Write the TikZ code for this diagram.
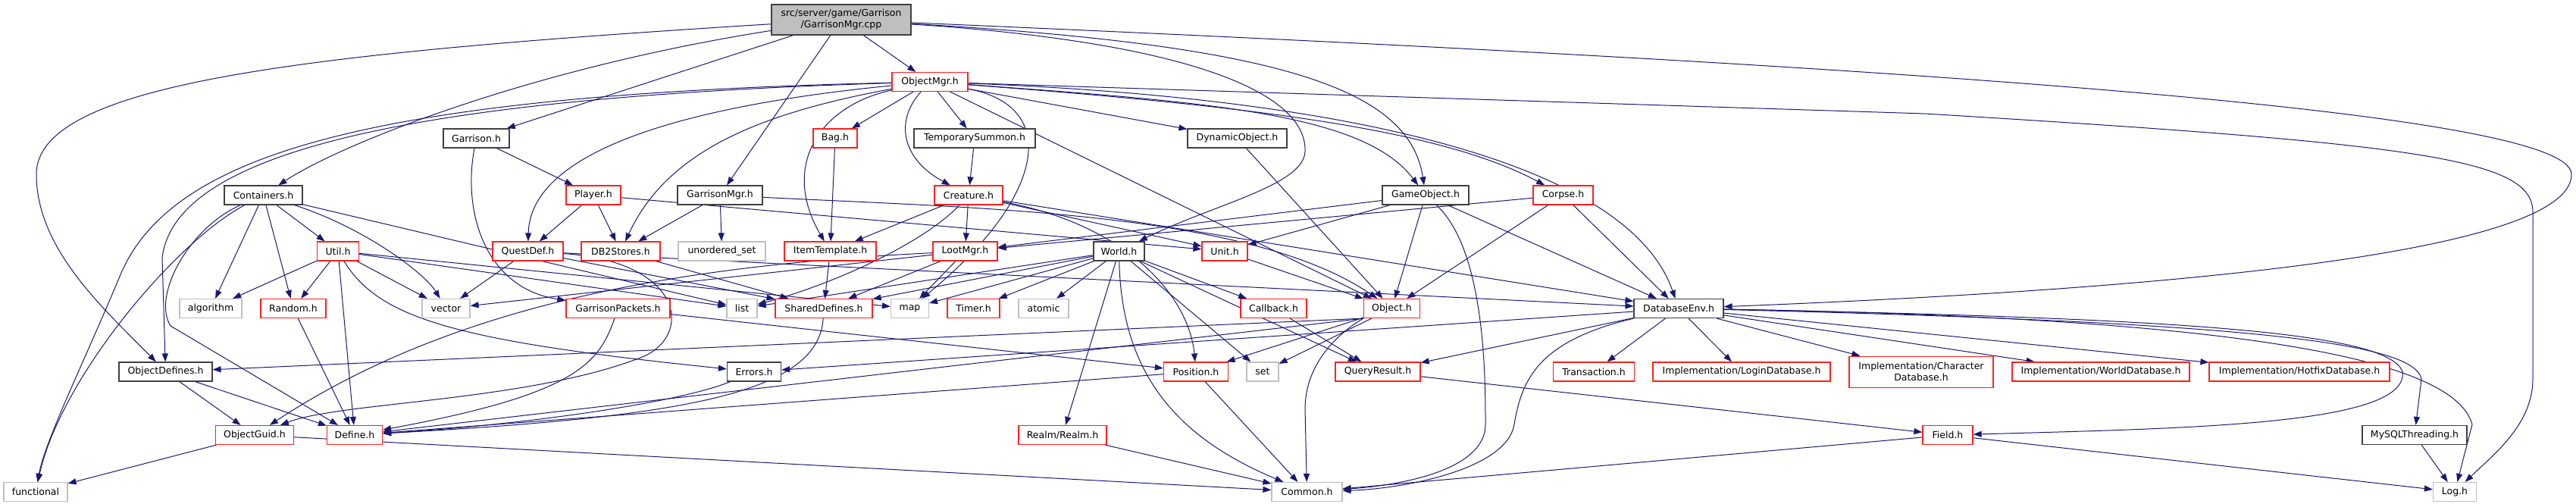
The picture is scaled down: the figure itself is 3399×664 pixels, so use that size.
\documentclass[tikz,border=0pt]{standalone}
\usepackage{fontspec}
\setmainfont{DejaVu Sans}
\usetikzlibrary{arrows.meta}
\definecolor{edgec}{HTML}{191970}
\definecolor{rbd}{HTML}{FF2020}
\definecolor{bbd}{HTML}{404040}
\definecolor{gbd}{HTML}{BFBFBF}
\pgfdeclarelayer{edges}
\pgfsetlayers{edges,main}
\tikzset{
  nd/.style={draw, fill=white, inner sep=0pt, minimum height=25pt, line width=1.2pt,
    font=\fontsize{12.5}{15}\selectfont, text=black, align=center},
  rb/.style={nd, draw=rbd},
  bb/.style={nd, draw=bbd},
  gb/.style={nd, draw=gbd},
  e/.style={draw=edgec, line width=1pt, -{Triangle[length=11pt,width=8pt]}}
}
\newcommand\N[6]{\node[#5, minimum width=#4pt] (#1) at (#2,#3) {#6};}
\begin{document}
\begin{tikzpicture}[x=1pt,y=-1pt]
\useasboundingbox (0,0) rectangle (3399,664);
% nodes
\node[nd, draw=bbd, fill=gbd, minimum width=184pt, minimum height=40pt] (root) at (1110,26) {src/server/game/Garrison\\/GarrisonMgr.cpp};
\N{ObjectMgr}{1227}{108}{100}{rb}{ObjectMgr.h}
\N{Garrison}{628.5}{182.5}{87}{bb}{Garrison.h}
\N{Bag}{1102}{182.5}{58}{rb}{Bag.h}
\N{TemporarySummon}{1286}{182.5}{160}{bb}{TemporarySummon.h}
\N{DynamicObject}{1632.5}{182.5}{131}{bb}{DynamicObject.h}
\N{Containers}{347.5}{257.5}{103}{bb}{Containers.h}
\N{Player}{783}{257.5}{72}{rb}{Player.h}
\N{GarrisonMgr}{950}{257.5}{112}{bb}{GarrisonMgr.h}
\N{Creature}{1278}{257.5}{90}{rb}{Creature.h}
\N{GameObject}{1881}{257.5}{114}{bb}{GameObject.h}
\N{Corpse}{2062.5}{257.5}{79}{rb}{Corpse.h}
\N{Util}{446}{331.5}{55}{rb}{Util.h}
\N{QuestDef}{696.5}{331.5}{93}{rb}{QuestDef.h}
\N{DBStores}{819}{331.5}{104}{rb}{DB2Stores.h}
\N{unorderedset}{952.5}{331.5}{115}{gb}{unordered\_set}
\N{ItemTemplate}{1095.5}{331.5}{121}{rb}{ItemTemplate.h}
\N{LootMgr}{1273.5}{331.5}{85}{rb}{LootMgr.h}
\N{World}{1476.5}{331.5}{67}{bb}{World.h}
\N{Unit}{1616}{331.5}{60}{rb}{Unit.h}
\N{algorithm}{278}{407}{82}{gb}{algorithm}
\N{Random}{387}{407}{86}{rb}{Random.h}
\N{vector}{588.5}{407}{63}{gb}{vector}
\N{GarrisonPackets}{815.5}{407}{137}{rb}{GarrisonPackets.h}
\N{list}{979}{407}{40}{gb}{list}
\N{SharedDefines}{1087}{407}{128}{rb}{SharedDefines.h}
\N{map}{1200.5}{407}{50}{gb}{map}
\N{Timer}{1284.5}{407}{69}{rb}{Timer.h}
\N{atomic}{1377}{407}{66}{gb}{atomic}
\N{Callback}{1680.5}{407}{87}{rb}{Callback.h}
\N{Object}{1836.5}{407}{74}{rb}{Object.h}
\N{DatabaseEnv}{2215}{407}{118}{bb}{DatabaseEnv.h}
\N{ObjectDefines}{218.5}{490.5}{123}{bb}{ObjectDefines.h}
\N{Errors}{995}{490.5}{71}{bb}{Errors.h}
\N{Position}{1578}{490.5}{85}{rb}{Position.h}
\N{set}{1666}{490.5}{42}{gb}{set}
\N{QueryResult}{1818}{490.5}{112}{rb}{QueryResult.h}
\N{Transaction}{2103}{490.5}{107}{rb}{Transaction.h}
\N{LoginDB}{2298}{490.5}{234}{rb}{Implementation/LoginDatabase.h}
\node[rb, minimum width=190pt, minimum height=41pt] (CharDB) at (2535,490.7) {Implementation/Character\\Database.h};
\N{WorldDB}{2772}{490.5}{234}{rb}{Implementation/WorldDatabase.h}
\N{HotfixDB}{3034}{490.5}{238}{rb}{Implementation/HotfixDatabase.h}
\N{ObjectGuid}{336}{574}{103}{rb}{ObjectGuid.h}
\N{Define}{468}{574}{73}{rb}{Define.h}
\N{Realm}{1402}{574}{116}{rb}{Realm/Realm.h}
\N{Field}{2570}{574}{66}{rb}{Field.h}
\N{MySQLThreading}{3186}{574}{138}{bb}{MySQLThreading.h}
\N{functional}{47}{649}{84}{gb}{functional}
\N{Common}{1724.5}{649}{93}{gb}{Common.h}
\N{Log}{3239}{649}{57}{gb}{Log.h}
\begin{pgfonlayer}{edges}
% root edges
\draw[e] (root) .. controls (400,70) and (48,110) .. (48,230) .. controls (48,330) and (140,410) .. (ObjectDefines);
\draw[e] (root) .. controls (700,90) and (450,190) .. (Containers);
\draw[e] (root) -- (Garrison);
\draw[e] (root) -- (GarrisonMgr);
\draw[e] (root) -- (ObjectMgr);
\draw[e] (root) .. controls (1700,60) and (1860,120) .. (GameObject);
\draw[e] (root) .. controls (1560,55) and (1725,120) .. (1722,200) .. controls (1720,245) and (1600,270) .. (World);
\draw[e] (root) .. controls (2600,90) and (3393,150) .. (3393,230) .. controls (3393,330) and (2900,380) .. (DatabaseEnv);
% ObjectMgr edges
\draw[e] (ObjectMgr) .. controls (500,125) and (230,200) .. (160,360) .. controls (110,480) and (60,580) .. (functional);
\draw[e] (ObjectMgr) .. controls (500,130) and (230,210) .. (214,340) -- (ObjectDefines);
\draw[e] (ObjectMgr) .. controls (900,140) and (700,200) .. (QuestDef);
\draw[e] (ObjectMgr) .. controls (1000,150) and (880,200) .. (DBStores);
\draw[e] (ObjectMgr) .. controls (1080,140) and (1030,220) .. (ItemTemplate);
\draw[e] (ObjectMgr) -- (Bag);
\draw[e] (ObjectMgr) .. controls (1180,160) and (1190,210) .. (Creature);
\draw[e] (ObjectMgr) -- (TemporarySummon);
\draw[e] (ObjectMgr) -- (DynamicObject);
\draw[e] (ObjectMgr) .. controls (1400,140) and (1380,260) .. (map);
\draw[e] (ObjectMgr) -- (Object);
\draw[e] (ObjectMgr) .. controls (1600,135) and (1800,150) .. (GameObject);
\draw[e] (ObjectMgr) .. controls (1650,140) and (1900,170) .. (Corpse);
\draw[e] (ObjectMgr) .. controls (1800,130) and (2150,220) .. (DatabaseEnv);
\draw[e] (ObjectMgr) -- (2540,150) .. controls (3200,190) and (3342,210) .. (3342,280) -- (3342,500) .. controls (3342,560) and (3290,600) .. (Log);
% Garrison
\draw[e] (Garrison) -- (Player);
\draw[e] (Garrison) .. controls (610,280) and (640,380) .. (GarrisonPackets);
% Containers
\draw[e] (Containers) -- (Util);
\draw[e] (Containers) -- (Random);
\draw[e] (Containers) -- (algorithm);
\draw[e] (Containers) .. controls (480,300) and (560,360) .. (vector);
\draw[e] (Containers) -- (list);
\draw[e] (Containers) .. controls (250,300) and (200,390) .. (225,430) -- (Define);
\draw[e] (Containers) .. controls (230,320) and (80,500) .. (functional);
% Player, GarrisonMgr
\draw[e] (Player) -- (QuestDef);
\draw[e] (Player) -- (DBStores);
\draw[e] (Player) -- (Unit);
\draw[e] (GarrisonMgr) -- (DBStores);
\draw[e] (GarrisonMgr) -- (unorderedset);
\draw[e] (GarrisonMgr) .. controls (1300,275) and (1650,280) .. (Object);
% Bag, TS, DO
\draw[e] (Bag) -- (ItemTemplate);
\draw[e] (TemporarySummon) -- (Creature);
\draw[e] (DynamicObject) -- (Object);
% Creature
\draw[e] (Creature) -- (ItemTemplate);
\draw[e] (Creature) -- (LootMgr);
\draw[e] (Creature) .. controls (1220,320) and (1100,375) .. (list);
\draw[e] (Creature) -- (Unit);
\draw[e] (Creature) .. controls (1500,300) and (1570,400) .. (Position);
\draw[e] (Creature) -- (DatabaseEnv);
% GameObject, Corpse
\draw[e] (GameObject) -- (Object);
\draw[e] (GameObject) -- (DatabaseEnv);
\draw[e] (GameObject) .. controls (1960,330) and (1960,500) .. (1960,560) .. controls (1960,620) and (1850,640) .. (Common);
\draw[e] (GameObject) -- (LootMgr);
\draw[e] (GameObject) -- (Unit);
\draw[e] (Corpse) -- (Object);
\draw[e] (Corpse) -- (DatabaseEnv);
\draw[e] (Corpse) -- (LootMgr);
% Util
\draw[e] (Util) -- (algorithm);
\draw[e] (Util) -- (Random);
\draw[e] (Util) -- (vector);
\draw[e] (Util) -- (Define);
\draw[e] (Util) -- (list);
\draw[e] (Util) -- (map);
\draw[e] (Util) .. controls (500,420) and (600,450) .. (Errors);
% QuestDef, DB2Stores
\draw[e] (QuestDef) -- (vector);
\draw[e] (QuestDef) -- (SharedDefines);
\draw[e] (QuestDef) -- (DatabaseEnv);
\draw[e] (QuestDef) .. controls (900,345) and (915,440) .. (850,470) .. controls (700,530) and (450,530) .. (ObjectGuid);
\draw[e] (DBStores) -- (SharedDefines);
% ItemTemplate, LootMgr
\draw[e] (ItemTemplate) -- (SharedDefines);
\draw[e] (LootMgr) -- (SharedDefines);
\draw[e] (LootMgr) -- (map);
\draw[e] (LootMgr) -- (vector);
\draw[e] (LootMgr) .. controls (900,350) and (600,400) .. (ObjectGuid);
% World
\draw[e] (World) -- (list);
\draw[e] (World) -- (SharedDefines);
\draw[e] (World) -- (map);
\draw[e] (World) -- (Timer);
\draw[e] (World) -- (atomic);
\draw[e] (World) -- (Realm);
\draw[e] (World) .. controls (1480,500) and (1560,580) .. (Common);
\draw[e] (World) -- (set);
\draw[e] (World) -- (Callback);
\draw[e] (World) -- (QueryResult);
% Unit, Callback, Object
\draw[e] (Unit) -- (Object);
\draw[e] (Callback) -- (QueryResult);
\draw[e] (Object.south west) .. controls (1765,440) and (1722,480) .. (1722,540) -- (Common);
\draw[e] (Object) -- (Position);
\draw[e] (Object) -- (set);
\draw[e] (Object.south west) -- (ObjectDefines);
\draw[e] (Object.south west) -- (Define);
% DatabaseEnv
\draw[e] (DatabaseEnv) -- (Transaction);
\draw[e] (DatabaseEnv) -- (LoginDB);
\draw[e] (DatabaseEnv) -- (CharDB);
\draw[e] (DatabaseEnv) -- (WorldDB);
\draw[e] (DatabaseEnv) -- (HotfixDB);
\draw[e] (DatabaseEnv) -- (QueryResult);
\draw[e] (DatabaseEnv) -- (Errors);
\draw[e] (DatabaseEnv.south west) .. controls (2030,450) and (2008,500) .. (1998,560) .. controls (1988,620) and (1850,645) .. (Common);
\draw[e] (DatabaseEnv) .. controls (2900,420) and (3150,440) .. (3170,490) .. controls (3180,560) and (2900,565) .. (Field);
\draw[e] (DatabaseEnv) .. controls (2950,425) and (3185,450) .. (3195,500) -- (MySQLThreading);
\draw[e] (DatabaseEnv) .. controls (3000,420) and (3240,480) .. (3262,560) -- (Log);
% lower
\draw[e] (QueryResult) -- (Field);
\draw[e] (Field) -- (Common);
\draw[e] (Field) -- (Log);
\draw[e] (MySQLThreading) -- (Log);
\draw[e] (Position) -- (Common);
\draw[e] (Position) -- (Define);
\draw[e] (Realm) -- (Common);
\draw[e] (ObjectDefines) -- (ObjectGuid);
\draw[e] (ObjectDefines) -- (Define);
\draw[e] (ObjectGuid) -- (functional);
\draw[e] (ObjectGuid) -- (Common);
\draw[e] (Random) -- (Define);
\draw[e] (Errors) .. controls (900,530) and (700,560) .. (Define);
\draw[e] (SharedDefines) .. controls (1080,520) and (900,550) .. (Define);
\draw[e] (GarrisonPackets) -- (Position);
\draw[e] (GarrisonPackets) .. controls (790,480) and (760,520) .. (Define);
\end{pgfonlayer}
\end{tikzpicture}
\end{document}
